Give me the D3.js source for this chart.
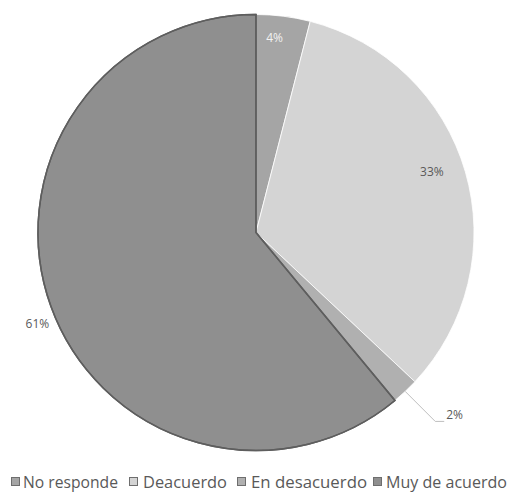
<!DOCTYPE html>
<html><head><meta charset="utf-8">
<script src="https://cdn.jsdelivr.net/npm/d3@7"></script>
<style>body{margin:0;background:#fff}</style>
</head><body>
<svg id="c" width="510" height="495"></svg>
<script>
const categories = ["No responde", "Deacuerdo", "En desacuerdo", "Muy de acuerdo"];
const values = [4, 33, 2, 61];
const labels = ["4%", "33%", "2%", "61%"];
const colors = ["#a5a5a5", "#d4d4d4", "#b0b0b0", "#8f8f8f"];
const strokes = ["#ffffff", "#ffffff", "#ffffff", "#5e5e5e"];

const svg = d3.select("#c");
const cx = 256, cy = 232.5, R = 218;
const g = svg.append("g").attr("transform", `translate(${cx},${cy})`);
const pie = d3.pie().sort(null).value(d => d)(values);
const arc = d3.arc().innerRadius(0).outerRadius(R);

g.selectAll("path").data(pie).join("path")
  .attr("d", arc)
  .attr("fill", (d, i) => colors[i])
  .attr("stroke", (d, i) => strokes[i])
  .attr("stroke-width", (d, i) => i === 3 ? 1.5 : 0.8)
  .attr("stroke-linejoin", "round");
g.append("path").datum(pie[3]).attr("d", arc).attr("fill", "none")
  .attr("stroke", strokes[3]).attr("stroke-width", 1.5);

const font = "Open Sans, sans-serif";
const lp = [
  {r: 0.9, dx: -6, dy: 0, fill: "#f2f2f2"},
  {r: 0.85, dx: -2, dy: -9, fill: "#595959"},
  null,
  {r: 1.1, dx: 7, dy: 10, fill: "#595959"}
];
pie.forEach((d, i) => {
  const a = (d.startAngle + d.endAngle) / 2;
  if (i === 2) {
    const ax = Math.sin(a) * R, ay = -Math.cos(a) * R;
    const ex = ax + 30, ey = ay + 30;
    g.append("polyline")
      .attr("points", [[ax, ay], [ex, ey], [ex + 9, ey]].map(p => p.join(",")).join(" "))
      .attr("fill", "none").attr("stroke", "#bfbfbf").attr("stroke-width", 1);
    g.append("text").attr("x", ex + 11).attr("y", ey - 2)
      .attr("font-family", font).attr("font-size", 12).attr("fill", "#595959")
      .text(labels[i]);
    return;
  }
  const r = R * lp[i].r;
  const x = Math.sin(a) * r + lp[i].dx, y = -Math.cos(a) * r + lp[i].dy;
  g.append("text").attr("x", x).attr("y", y + 4).attr("text-anchor", "middle")
    .attr("font-family", font).attr("font-size", 12).attr("fill", lp[i].fill)
    .text(labels[i]);
});

// legend
const legX = [11, 129, 237, 373];
const legT = [23, 143, 251, 386];
const legW = [95, 84, 116, 121];
const leg = svg.append("g");
categories.forEach((c, i) => {
  leg.append("rect").attr("x", legX[i] + 0.5).attr("y", 477.5).attr("width", 8).attr("height", 8)
    .attr("fill", colors[i]).attr("stroke", "#6e6e6e").attr("stroke-width", 1);
  leg.append("text").attr("x", legT[i]).attr("y", 488)
    .attr("font-family", font).attr("font-size", 15.5).attr("fill", "#595959")
    .attr("textLength", legW[i]).attr("lengthAdjust", "spacingAndGlyphs")
    .text(c);
});
</script>
</body></html>
